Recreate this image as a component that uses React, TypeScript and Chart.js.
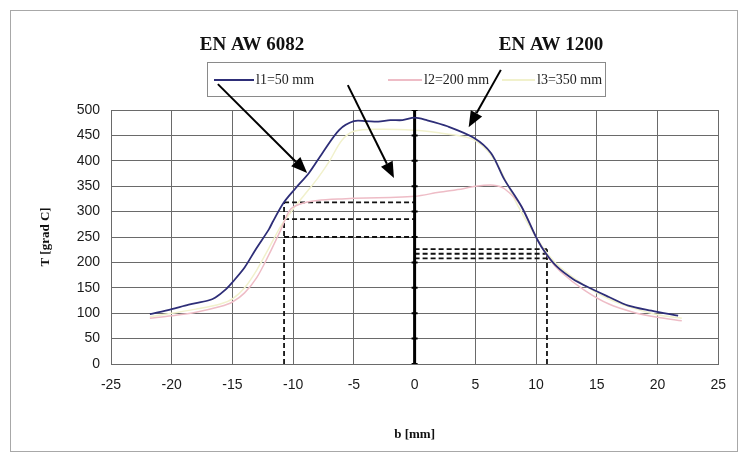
import React, { useEffect, useRef } from "react";
import { Chart, registerables } from "chart.js";

Chart.register(...registerables);

// ---- data ----
const l1B = [-21.8, -20, -18.6, -17, -16.4, -15.5, -15, -14, -13.1, -12, -11.7, -10.8, -9.8, -8.7, -7.6, -6.2, -5, -4, -3, -2, -1, 0, 1, 2.7, 4.9, 6.3, 7.4, 8.8, 10.1, 10.8, 11.7, 13, 14.3, 16, 17.6, 19.5, 21.7];
const l1T = [98, 108, 117, 125, 131, 148, 161, 190, 225, 265, 279, 317, 346, 376, 415, 461, 478, 478, 477, 480, 480, 485, 480, 468, 445, 415, 363, 310, 245, 218, 192, 168, 151, 132, 115, 105, 95];

const l2B = [-21.8, -20, -18, -16, -15, -14, -13, -12, -11, -10.2, -9, -8, -6, -4, -2, 0, 2, 4, 5, 6.5, 7.4, 8.8, 10, 11, 12, 14, 16, 18, 20, 22];
const l2T = [90, 95, 102, 113, 122, 140, 170, 215, 265, 305, 318, 322, 325, 327, 328, 330, 338, 345, 350, 352, 345, 310, 250, 210, 182, 145, 118, 102, 92, 85];

const l3B = [-21.8, -20, -18, -16, -15, -14, -13, -12, -11, -10, -9, -8, -7, -6, -5, -3, 0, 2, 4, 5, 6, 7, 8, 9, 10, 11, 12, 14, 16, 18, 20, 22];
const l3T = [93, 100, 108, 118, 128, 150, 185, 228, 272, 305, 335, 365, 400, 440, 458, 462, 460, 455, 448, 440, 420, 385, 335, 290, 250, 215, 190, 155, 128, 110, 97, 90];

const seriesNames = ["l1=50 mm", "l2=200 mm", "l3=350 mm"];
const seriesColors = ["#2e2e78", "#eebcc6", "#f1f1cc"];
const alloyTitles = ["EN AW 6082", "EN AW 1200"];

const leftCut = -10.75;
const leftLevels = [318, 285, 250];
const rightCut = 10.9;
const rightLevels = [226, 217, 208];

const zeroLineT = [0, 50, 100, 150, 200, 250, 300, 350, 400, 450, 500];

// arrows in data coordinates: [fromB, fromT, toB, toT]
const arrows = [
  [-16.2, 551, -8.85, 376],
  [-5.5, 549, -1.7, 366],
  [7.1, 579, 4.45, 466],
];

const xTicks = [-25, 25, 5];
const yTicks = [0, 500, 50];

const pts = (b: number[], t: number[]) => b.map((x, i) => ({ x, y: t[i] }));

export default function App() {
  const ref = useRef<HTMLCanvasElement | null>(null);

  useEffect(() => {
    if (!ref.current) return;
    const dashDs: any[] = [];
    dashDs.push({ data: [{ x: leftCut, y: 0 }, { x: leftCut, y: leftLevels[0] }] });
    leftLevels.forEach((lv) => dashDs.push({ data: [{ x: leftCut, y: lv }, { x: 0, y: lv }] }));
    dashDs.push({ data: [{ x: rightCut, y: 0 }, { x: rightCut, y: rightLevels[0] }] });
    rightLevels.forEach((lv) => dashDs.push({ data: [{ x: 0, y: lv }, { x: rightCut, y: lv }] }));
    const dashed = dashDs.map((d) => ({
      ...d,
      showLine: true,
      borderColor: "#111",
      borderWidth: 1.8,
      borderDash: [5, 3],
      pointRadius: 0,
      order: 5,
    }));

    const overlay = {
      id: "overlay",
      beforeDraw(chart: any) {
        const ctx = chart.ctx;
        ctx.save();
        ctx.fillStyle = "#fff";
        ctx.fillRect(0, 0, chart.width, chart.height);
        ctx.strokeStyle = "#a8a8a8";
        ctx.lineWidth = 1;
        ctx.strokeRect(10.5, 10.5, 727, 441);
        ctx.restore();
      },
      afterDraw(chart: any) {
        const ctx = chart.ctx;
        const xs = chart.scales.x;
        const ys = chart.scales.y;
        ctx.save();
        // titles
        ctx.fillStyle = "#111";
        ctx.font = "bold 19px 'Liberation Serif'";
        ctx.textAlign = "center";
        ctx.textBaseline = "middle";
        ctx.fillText(alloyTitles[0], 252, 45);
        ctx.fillText(alloyTitles[1], 551, 45);
        // legend
        ctx.strokeStyle = "#8a8a8a";
        ctx.lineWidth = 1;
        ctx.strokeRect(207.5, 62.5, 398, 34);
        const items = [
          [214, 254, 256],
          [388, 422, 424],
          [502, 535, 537],
        ];
        ctx.font = "14px 'Liberation Serif'";
        ctx.textAlign = "left";
        items.forEach((it, i) => {
          ctx.strokeStyle = seriesColors[i];
          ctx.lineWidth = 2;
          ctx.beginPath();
          ctx.moveTo(it[0], 80);
          ctx.lineTo(it[1], 80);
          ctx.stroke();
          ctx.fillStyle = "#222";
          ctx.fillText(seriesNames[i], it[2], 80);
        });
        // axis titles
        ctx.font = "bold 13px 'Liberation Serif'";
        ctx.textAlign = "center";
        ctx.fillStyle = "#111";
        ctx.fillText("b [mm]", (xs.left + xs.right) / 2, 435);
        ctx.save();
        ctx.translate(46, (ys.top + ys.bottom) / 2);
        ctx.rotate(-Math.PI / 2);
        ctx.fillText("T [grad C]", 0, 0);
        ctx.restore();
        // arrows
        arrows.forEach((a) => {
          const x1 = xs.getPixelForValue(a[0]);
          const y1 = ys.getPixelForValue(a[1]);
          const x2 = xs.getPixelForValue(a[2]);
          const y2 = ys.getPixelForValue(a[3]);
          const ang = Math.atan2(y2 - y1, x2 - x1);
          const hl = 16, hw = 6.5;
          const bx = x2 - hl * Math.cos(ang);
          const by = y2 - hl * Math.sin(ang);
          ctx.strokeStyle = "#000";
          ctx.lineWidth = 2;
          ctx.beginPath();
          ctx.moveTo(x1, y1);
          ctx.lineTo(bx, by);
          ctx.stroke();
          ctx.fillStyle = "#000";
          ctx.beginPath();
          ctx.moveTo(x2, y2);
          ctx.lineTo(bx + hw * Math.sin(ang), by - hw * Math.cos(ang));
          ctx.lineTo(bx - hw * Math.sin(ang), by + hw * Math.cos(ang));
          ctx.closePath();
          ctx.fill();
        });
        ctx.restore();
      },
    };

    const chart = new Chart(ref.current, {
      type: "scatter",
      data: {
        datasets: [
          {
            label: seriesNames[2],
            data: pts(l3B, l3T),
            showLine: true,
            borderColor: seriesColors[2],
            borderWidth: 1.5,
            pointRadius: 0,
            tension: 0.3,
            order: 4,
          },
          {
            label: seriesNames[1],
            data: pts(l2B, l2T),
            showLine: true,
            borderColor: seriesColors[1],
            borderWidth: 1.5,
            pointRadius: 0,
            tension: 0.3,
            order: 3,
          },
          ...dashed,
          {
            label: "zero",
            data: zeroLineT.map((t) => ({ x: 0, y: t })),
            showLine: true,
            borderColor: "#000",
            borderWidth: 3,
            pointStyle: "line",
            pointRadius: 3,
            pointBorderWidth: 2,
            pointBorderColor: "#000",
            order: 2,
          },
          {
            label: seriesNames[0],
            data: pts(l1B, l1T),
            showLine: true,
            borderColor: seriesColors[0],
            borderWidth: 1.8,
            pointRadius: 0,
            tension: 0.3,
            order: 1,
          },
        ] as any,
      },
      options: {
        responsive: false,
        animation: false,
        layout: { padding: { left: 0, right: 16, top: 110, bottom: 0 } },
        plugins: {
          legend: { display: false },
          tooltip: { enabled: false },
          title: { display: false },
        },
        scales: {
          x: {
            type: "linear",
            min: xTicks[0],
            max: xTicks[1],
            ticks: {
              stepSize: xTicks[2],
              padding: 13,
              color: "#1a1a1a",
              font: { family: "'Liberation Sans'", size: 14 },
            },
            grid: { color: "#6a6a6a", lineWidth: 1, drawTicks: false },
            border: { color: "#6a6a6a" },
            afterFit(s: any) {
              s.height = 96;
            },
          },
          y: {
            type: "linear",
            min: yTicks[0],
            max: yTicks[1],
            ticks: {
              stepSize: yTicks[2],
              padding: 11,
              color: "#1a1a1a",
              font: { family: "'Liberation Sans'", size: 14 },
            },
            grid: { color: "#6a6a6a", lineWidth: 1, drawTicks: false },
            border: { color: "#6a6a6a" },
            afterFit(s: any) {
              s.width = 111;
            },
          },
        },
      } as any,
      plugins: [overlay],
    });
    return () => chart.destroy();
  }, []);

  return (
    <div style={{ position: "absolute", left: 0, top: 0, width: 739, height: 460 }}>
      <canvas ref={ref} width={739} height={460} />
    </div>
  );
}
